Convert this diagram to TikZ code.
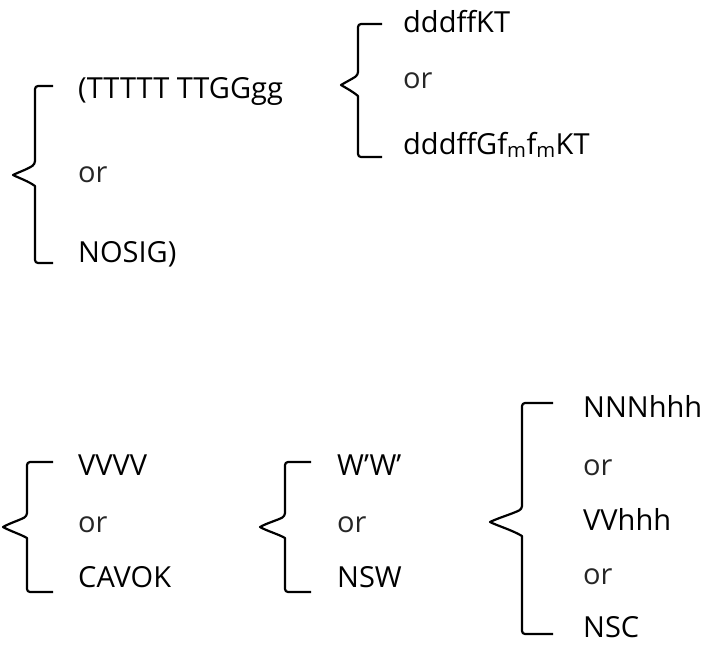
\documentclass[tikz,border=0pt]{standalone}
\usepackage{fontspec}
\setmainfont{Open Sans}

\tikzset{
  bracket/.style={line width=2.2pt, line join=round},
  code/.style={anchor=base west, inner sep=0pt, font=\fontsize{29}{34}\selectfont},
  orword/.style={code, text=black!85}
}

\begin{document}
\begin{tikzpicture}[x=1pt,y=-1pt]
    \useasboundingbox (0,0) rectangle (701,646);
    % wind group
    \node[code] (trend) at (78,98) {(TTTTT TTGGgg};
    \node[orword] (or1) at (78,182) {or};
    \node[code] (nosig) at (78,262) {NOSIG)};
    \draw[bracket] (53,86) [rounded corners=3pt] -- (35,86) -- (35,164) [sharp corners]
      .. controls (28,169) and (19,172) .. (13,175)
      .. controls (19,178) and (28,181) .. (35,186) [rounded corners=3pt]
      -- (35,263) -- (53,263);
    \node[code] (wind) at (403,32) {dddffKT};
    \node[orword] (or2) at (403,88) {or};
    \node[code] (gust) at (403,154) {dddffGf\textsubscript{m}f\textsubscript{m}KT};
    \draw[bracket] (382,24) [rounded corners=3pt] -- (358,24) -- (358,75) [sharp corners]
      .. controls (352,79) and (346,82) .. (341,85)
      .. controls (346,88) and (352,91) .. (358,96) [rounded corners=3pt]
      -- (358,157) -- (382,157);
    % visibility
    \node[code] (vis) at (78,475) {VVVV};
    \node[orword] (or3) at (78,532) {or};
    \node[code] (cavok) at (78,587) {CAVOK};
    \draw[bracket] (53,462) [rounded corners=3pt] -- (27,462) -- (27,516) [sharp corners]
      .. controls (20,520) and (10,523) .. (3,527)
      .. controls (10,531) and (20,534) .. (27,538) [rounded corners=3pt]
      -- (27,592) -- (53,592);
    % weather
    \node[code] (wx) at (337,475) {W’W’};
    \node[orword] (or4) at (337,532) {or};
    \node[code] (nsw) at (337,587) {NSW};
    \draw[bracket] (311,462) [rounded corners=3pt] -- (285,462) -- (285,516) [sharp corners]
      .. controls (278,520) and (267,523) .. (260,527)
      .. controls (267,531) and (278,534) .. (285,538) [rounded corners=3pt]
      -- (285,592) -- (311,592);
    % cloud
    \node[code] (cloud) at (583,417) {NNNhhh};
    \node[orword] (or5) at (583,475) {or};
    \node[code] (vv) at (583,530) {VVhhh};
    \node[orword] (or6) at (583,584) {or};
    \node[code, text depth=0pt] (nsc) at (583,637) {NSC};
    \draw[bracket] (553,403) [rounded corners=3pt] -- (522,403) -- (522,509) [sharp corners]
      .. controls (512,514) and (498,518) .. (490,522)
      .. controls (498,526) and (512,530) .. (522,536) [rounded corners=3pt]
      -- (522,634) -- (553,634);
\end{tikzpicture}
\end{document}
